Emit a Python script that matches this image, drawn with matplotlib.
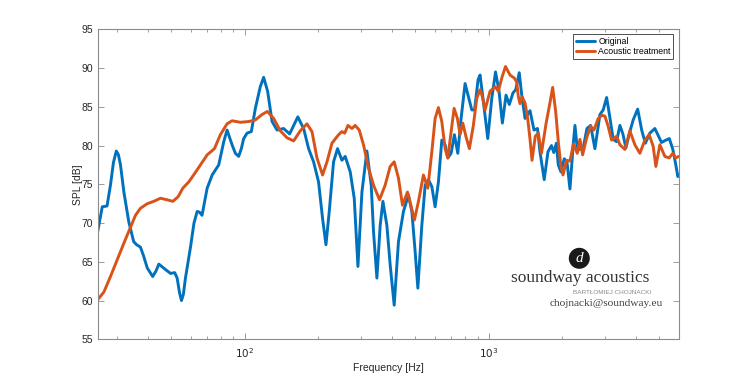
import matplotlib
matplotlib.use("Agg")
import matplotlib.pyplot as plt
from matplotlib.patches import Ellipse
from matplotlib.ticker import LogLocator, NullFormatter, FixedLocator

plt.rcParams['font.family'] = ['Liberation Sans', 'DejaVu Sans']

# ---- data (frequency in Hz, SPL in dB) ----
orig_freq = [25.0, 26.1, 27.3, 28.2, 29.0, 29.8, 30.4, 31.0, 32.0, 33.5, 35.1, 36.1, 37.4, 38.5, 39.9,
             42.0, 43.3, 44.5, 47.4, 49.7, 51.7, 52.9, 54.1, 55.1, 56.1, 57.2, 60.0, 62.0, 63.9, 65.3,
             66.9, 70.2, 73.6, 78.3, 82.1, 84.7, 88.8, 91.6, 94.5, 96.9, 99.1, 102.3, 106.5, 110.6,
             115.9, 119.6, 124.2, 129.5, 135.7, 144.4, 152.8, 158.2, 165.1, 174.4, 182.8, 191.6, 200.8,
             208.5, 215.3, 222.1, 231.3, 240.2, 250.3, 258.2, 270.7, 281.1, 291.1, 302.3, 316.8, 329.9,
             337.2, 348.1, 359.1, 368.4, 382.5, 394.6, 409.8, 426.7, 447.3, 468.8, 484.1, 499.4, 512.3,
             531.9, 548.8, 566.0, 584.5, 603.0, 622.0, 642.2, 662.5, 679.6, 701.0, 723.2, 746.7, 770.3,
             799.9, 825.1, 852.0, 874.8, 904.1, 921.3, 950.4, 990.6, 1029, 1066, 1102, 1137, 1177, 1214,
             1257, 1290, 1333, 1365, 1408, 1476, 1532, 1584, 1621, 1687, 1748, 1807, 1847, 1892, 1927,
             1976, 2039, 2091, 2151, 2223, 2255, 2309, 2364, 2431, 2525, 2614, 2722, 2854, 2944, 3040,
             3121, 3235, 3340, 3445, 3544, 3646, 3786, 3905, 4074, 4239, 4381, 4571, 4791, 5104, 5314,
             5493, 5677, 5839, 5950, 6000]
orig_spl = [68.9, 72.1, 72.2, 74.9, 77.8, 79.3, 78.8, 77.5, 74.0, 70.2, 67.6, 67.2, 66.9, 65.8, 64.2,
            63.1, 63.8, 64.7, 64.0, 63.5, 63.6, 62.9, 61.0, 60.0, 60.8, 62.9, 66.9, 70.0, 71.5, 71.4,
            71.0, 74.5, 76.2, 77.5, 80.5, 82.0, 80.1, 79.0, 78.6, 79.6, 80.9, 81.6, 81.8, 84.8,
            87.6, 88.8, 87.0, 83.1, 82.0, 82.2, 81.5, 82.5, 83.7, 82.2, 79.6, 77.9, 75.3,
            70.6, 67.2, 71.5, 77.9, 79.6, 78.1, 78.6, 76.6, 73.2, 64.4, 74.0, 79.3, 74.9,
            68.9, 62.9, 69.7, 72.8, 69.7, 64.6, 59.4, 67.6, 71.5, 73.6, 71.5, 66.3, 61.6,
            69.7, 74.9, 75.6, 74.7, 72.1, 75.3, 80.7, 80.1, 78.4, 79.0, 81.4, 79.0, 83.5,
            88.0, 86.3, 84.6, 84.6, 88.5, 89.1, 85.7, 80.9, 86.1, 89.5, 87.0, 82.9, 86.5, 85.3,
            86.8, 87.2, 89.4, 86.5, 83.5, 84.5, 82.0, 82.2, 79.2, 75.6, 79.2, 80.0, 79.1, 80.3, 77.5,
            76.6, 78.3, 77.9, 74.4, 80.5, 82.6, 79.3, 79.6, 79.5, 82.2, 82.6, 79.6, 84.0, 84.6, 86.2,
            84.0, 80.8, 80.5, 82.6, 81.5, 79.7, 81.8, 83.3, 84.7, 81.9, 80.3, 81.6, 82.2, 80.4, 80.7,
            80.9, 79.5, 77.5, 76.0, 76.2]

treat_freq = [25.0, 26.5, 28.2, 30.0, 32.0, 34.1, 35.7, 37.4, 39.9, 42.4, 45.2, 48.1, 50.8, 53.4, 55.8,
              59.0, 62.4, 65.9, 70.2, 75.2, 79.5, 84.7, 88.8, 96.0, 103.8, 110.6, 117.8, 123.9, 131.4,
              140.0, 149.1, 158.7, 169.0, 180.0, 188.7, 197.8, 208.5, 217.4, 227.8, 242.5, 250.3, 257.0,
              264.9, 275.1, 283.7, 294.7, 306.8, 321.6, 337.2, 356.8, 376.4, 394.6, 409.8, 426.7, 443.1,
              464.5, 479.6, 496.1, 515.2, 540.0, 562.9, 584.5, 603.0, 622.0, 642.2, 662.5, 679.6, 701.0,
              721.1, 743.9, 763.1, 782.7, 807.4, 832.9, 864.9, 893.0, 921.3, 941.5, 965.7, 1012, 1061,
              1095, 1130, 1171, 1222, 1273, 1302, 1322, 1343, 1369, 1408, 1444, 1476, 1504, 1551, 1596,
              1644, 1716, 1781, 1827, 1880, 1927, 1976, 2014, 2085, 2151, 2223, 2304, 2364, 2424, 2518,
              2614, 2697, 2808, 2908, 2991, 3077, 3186, 3340, 3445, 3612, 3786, 3968, 4160, 4360, 4541,
              4716, 4837, 5023, 5265, 5482, 5677, 5839, 6000]
treat_spl = [60.1, 61.1, 63.1, 65.2, 67.4, 69.5, 71.0, 71.9, 72.5, 72.8, 73.2, 73.0, 72.8, 73.4, 74.5,
             75.3, 76.4, 77.5, 78.8, 79.6, 81.4, 82.8, 83.2, 83.0, 83.1, 83.3, 84.0, 84.4, 83.5,
             81.9, 81.0, 80.6, 81.9, 82.8, 81.8, 78.4, 76.2, 77.9, 80.3, 81.4, 81.8, 81.6,
             82.6, 82.2, 82.6, 82.0, 80.1, 77.1, 74.9, 73.0, 74.9, 77.3, 77.9, 75.8, 72.3,
             74.0, 72.3, 70.4, 72.8, 76.2, 74.5, 79.2, 83.5, 84.9, 83.1, 79.6, 78.4, 81.8,
             84.8, 83.5, 81.4, 82.9, 81.1, 79.6, 82.6, 86.1, 87.2, 86.3, 84.6, 87.0, 87.6,
             87.0, 88.7, 90.2, 89.1, 88.7, 88.2, 86.3, 85.4, 86.3, 85.5, 83.5, 80.8, 78.1, 81.2, 81.6,
             79.0, 82.8, 85.5, 87.5, 84.4, 80.5, 77.3, 76.2, 78.1, 78.0, 80.2, 79.0, 80.8, 78.8, 81.0,
             82.5, 82.0, 83.5, 83.9, 83.8, 82.6, 80.7, 81.2, 80.1, 79.5, 81.9, 80.1, 79.0, 80.7, 81.4,
             79.9, 77.3, 80.1, 78.6, 78.4, 79.0, 78.4, 78.6]

series_labels = ["Original", "Acoustic treatment"]
y_ticks = [55, 60, 65, 70, 75, 80, 85, 90, 95]
x_major = [100, 1000]
x_major_labels = [r"$10^2$", r"$10^3$"]

# ---- figure ----
W, H = 750, 382
fig = plt.figure(figsize=(W / 100, H / 100), dpi=100)
ax = fig.add_axes([97.7 / W, 1 - 339.3 / H, (678.7 - 97.7) / W, (339.3 - 29.3) / H])

blue = "#0072BD"
orange = "#D95319"
ax.plot(orig_freq, orig_spl, color=blue, lw=2.1, label=series_labels[0],
        solid_joinstyle='round', solid_capstyle='round')
ax.plot(treat_freq, treat_spl, color=orange, lw=2.1, label=series_labels[1],
        solid_joinstyle='round', solid_capstyle='round')

ax.set_xscale('log')
ax.set_xlim(25, 6000)
ax.set_ylim(55, 95)
ax.set_yticks(y_ticks)
ax.xaxis.set_major_locator(FixedLocator(x_major))
ax.set_xticklabels(x_major_labels)
ax.xaxis.set_minor_locator(LogLocator(base=10, subs=range(2, 10), numticks=20))
ax.xaxis.set_minor_formatter(NullFormatter())

spine_col = "#8c8c8c"
text_col = "#262626"
for s in ax.spines.values():
    s.set_color(spine_col)
    s.set_linewidth(0.8)
ax.tick_params(which='both', direction='in', top=True, right=True, color=spine_col,
               labelcolor=text_col, labelsize=7.5, width=0.6)
ax.tick_params(which='major', length=4)
ax.tick_params(which='minor', length=2.2)
ax.tick_params(axis='x', pad=5)

ax.set_xlabel("Frequency [Hz]", fontsize=7.5, color=text_col, labelpad=2)
ax.set_ylabel("SPL [dB]", fontsize=7.5, color=text_col, labelpad=-1)

leg = ax.legend(loc='upper right', bbox_to_anchor=((673.3 - 97.7) / 581, (339.3 - 34) / 310),
                borderaxespad=0, fontsize=6.3, handlelength=2.2, handletextpad=0.4,
                labelspacing=0.2, borderpad=0.3, fancybox=False, framealpha=1,
                edgecolor="#333333")
leg.get_frame().set_linewidth(0.6)

# ---- watermark ----
r = 10.5
fig.add_artist(Ellipse((579.3 / W, 1 - 258.3 / H), 2 * r / W, 2 * r / H,
                       transform=fig.transFigure, facecolor="#1a1a1a", edgecolor="none"))
fig.text(579.3 / W, 1 - 258.8 / H, "d", color="white", fontsize=11, style='italic',
         family=['Liberation Serif', 'DejaVu Serif'], ha='center', va='center')
fig.text(579.7 / W, 1 - 277.5 / H, "soundway acoustics", fontsize=12.5, color="#333333",
         family=['Liberation Serif', 'DejaVu Serif'], ha='center', va='center')
fig.text(651.5 / W, 1 - 292.8 / H, "BARTŁOMIEJ CHOJNACKI", fontsize=4.6, color="#8a8a8a",
         ha='right', va='center')
fig.text(663.3 / W, 1 - 303.3 / H, "chojnacki@soundway.eu", fontsize=8.2, color="#444444",
         family=['Liberation Serif', 'DejaVu Serif'], ha='right', va='center')

fig.savefig("out.png", dpi=100)
